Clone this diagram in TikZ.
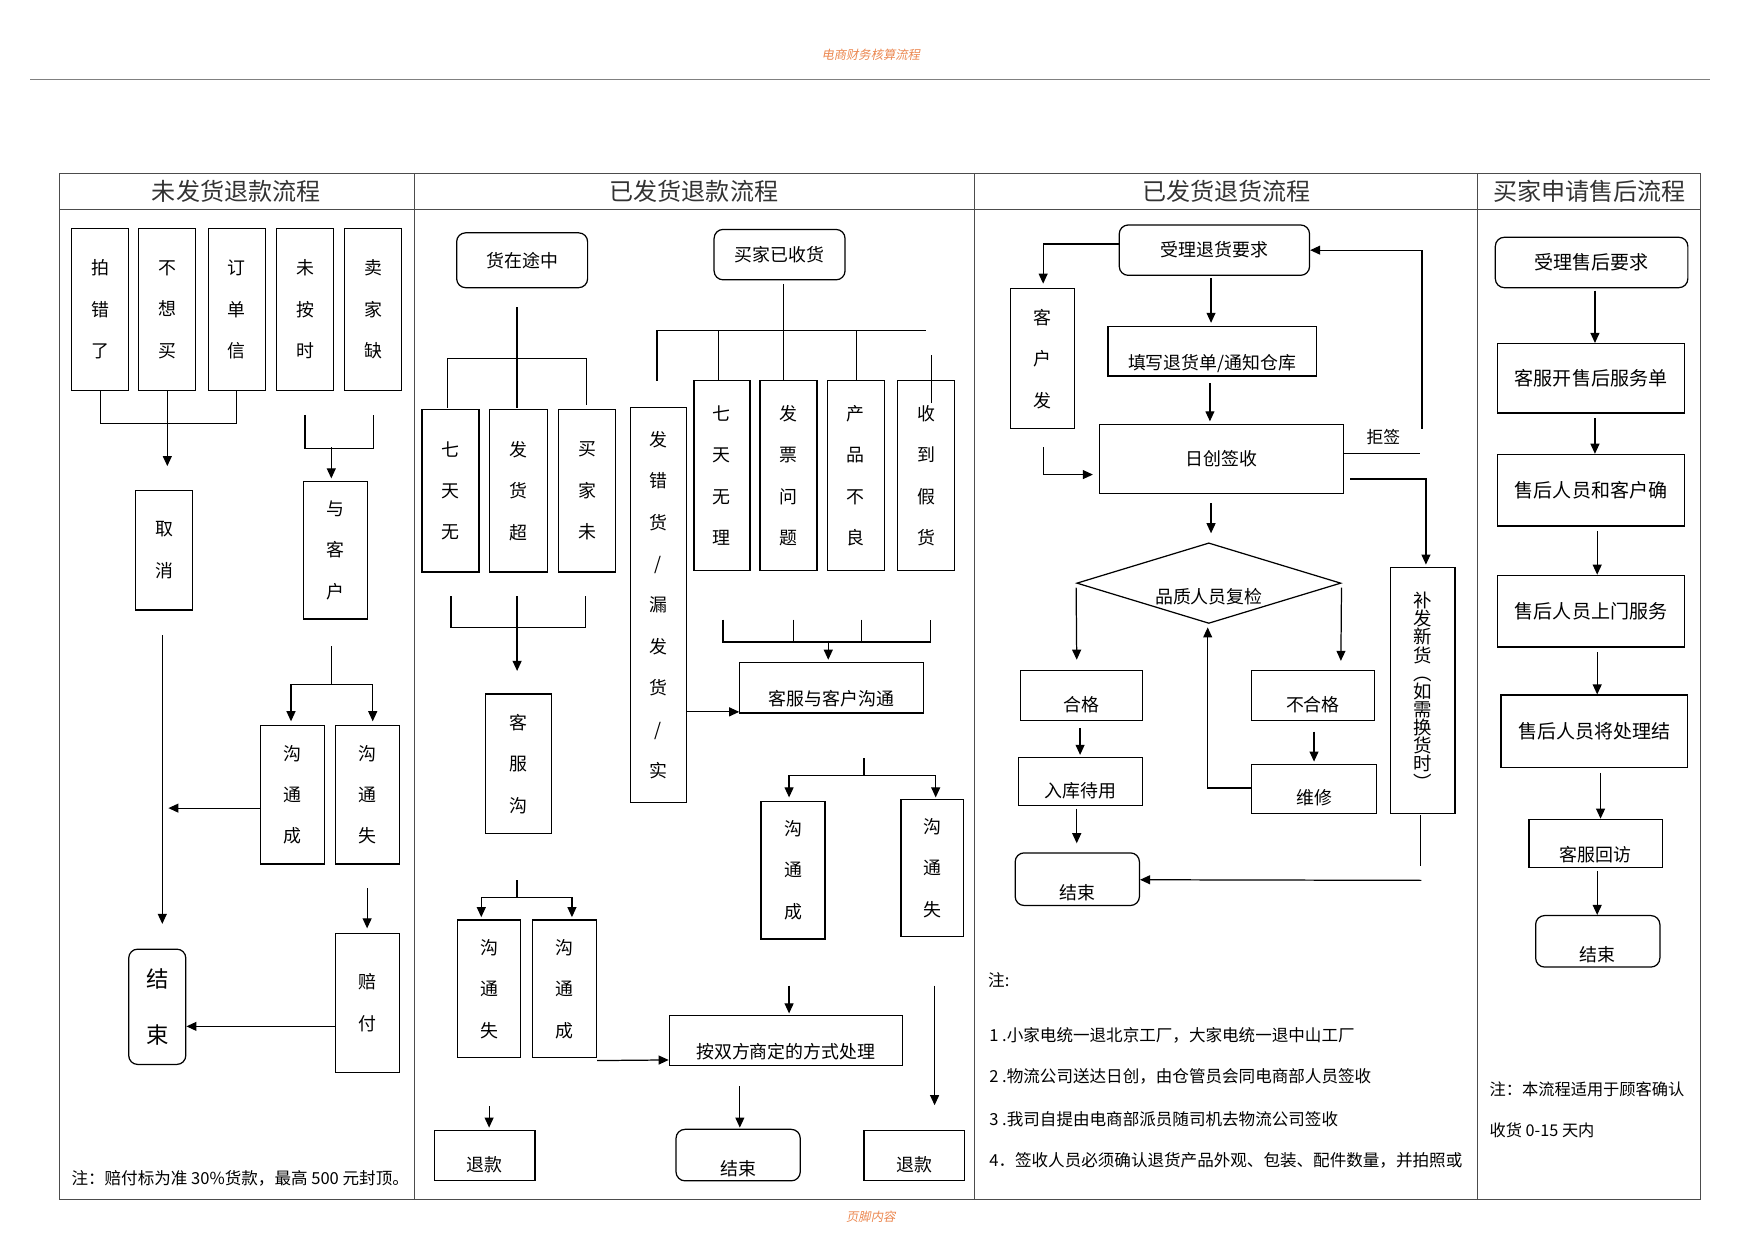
\documentclass[tikz,border=0pt]{standalone}
\usepackage{fontspec}
\setmainfont{Noto Sans CJK SC}
\newfontfamily\hdfont[FakeSlant=0.2]{Noto Sans CJK SC}
\usetikzlibrary{positioning, arrows.meta, shapes.geometric, calc}
\definecolor{hdorange}{RGB}{235,135,80}

\begin{document}
\begin{tikzpicture}[
    x=1pt, y=-1pt,
    line width=1.1pt,
    sz/.style 2 args={minimum width=#1pt, minimum height=#2pt},
    box/.style={draw, inner sep=0pt, align=center, font=\fontsize{16}{19}\selectfont},
    vbox/.style={box, font=\fontsize{16}{37}\selectfont},
    rbox/.style={box, rounded corners=8pt},
    box4/.style={box, font=\fontsize{17}{20}\selectfont},
    dia/.style={draw, diamond, aspect=3.28, inner sep=0pt, minimum width=236pt, minimum height=72pt, font=\fontsize{16}{19}\selectfont},
    low/.style={text height=#1, text depth=2pt},
    low/.default=30pt,
    arrow/.style={-{Triangle[length=9pt,width=8pt]}},
    title/.style={font=\fontsize{21.5}{24}\selectfont, text=black!80},
    note/.style={anchor=west, font=\fontsize{14.8}{17}\selectfont},
    lbl/.style={font=\fontsize{15}{17}\selectfont},
    hdtext/.style={font=\hdfont\fontsize{11}{13}\selectfont, text=hdorange},
    frame/.style={draw=black!70, line width=0.9pt}
  ]
  \useasboundingbox (0,0) rectangle (1568,1109);

  % 页眉 / 页脚
  \node[hdtext] (header) at (778,49) {电商财务核算流程};
  \draw[draw=black!50, line width=1pt] (27,71) -- (1528,71);
  \node[hdtext] (footer) at (778,1087) {页脚内容};

  % 表格
  \draw[frame] (53,155) rectangle (1519,1072);
  \draw[frame] (53,187) -- (1519,187);
  \draw[frame] (370,155) -- (370,1072);
  \draw[frame] (871,155) -- (871,1072);
  \draw[frame] (1320,155) -- (1320,1072);
  \node[title] (title1) at (211,171) {未发货退款流程};
  \node[title] (title2) at (620,171) {已发货退款流程};
  \node[title] (title3) at (1096,171) {已发货退货流程};
  \node[title] (title4) at (1420,171) {买家申请售后流程};

  % 未发货退款流程
  \node[vbox, sz={51}{145}] (paicuo) at (89.5,276.5) {拍\\错\\了};
  \node[vbox, sz={51}{145}] (buxiang) at (149.5,276.5) {不\\想\\买};
  \node[vbox, sz={51}{145}] (dingdan) at (211.5,276.5) {订\\单\\信};
  \node[vbox, sz={51}{145}] (weian) at (272.5,276.5) {未\\按\\时};
  \node[vbox, sz={51}{145}] (quehuo) at (333.5,276.5) {卖\\家\\缺};
  \node[vbox, sz={51}{107}] (quxiao) at (146.5,491.5) {取\\消};
  \node[vbox, sz={57}{123}] (yukehu) at (299.5,491.5) {与\\客\\户};
  \node[vbox, sz={57}{124}] (cheng1) at (261.5,710) {沟\\通\\成};
  \node[vbox, sz={57}{124}] (shi1) at (328.5,710) {沟\\通\\失};
  \node[vbox, rbox, sz={51}{103}, font=\fontsize{20}{50}\selectfont] (end1) at (140.5,899.5) {结\\束};
  \node[vbox, sz={57}{124}] (peifu) at (328.5,896) {赔\\付};

  \draw (paicuo.south) -- ++(0,29) -| (dingdan.south);
  \draw[arrow, shorten >=21pt] (buxiang.south) -- (buxiang.south |- quxiao.north);
  \draw ($(weian.south)+(0,21)$) -- ++(0,30) -| ($(quehuo.south)+(0,21)$);
  \draw[arrow] ($(yukehu.north)+(-3.5,-30)$) -- ($(yukehu.north)+(-3.5,-2)$);
  \draw ($(yukehu.south)+(-3.5,24)$) -- ++(0,34) coordinate (fork1);
  \draw[arrow] (fork1) -| ($(cheng1.north)+(-1.5,-3)$);
  \draw[arrow] (fork1) -| ($(shi1.north)+(4.5,-3)$);
  \draw[arrow] ($(quxiao.south)+(-1.5,22)$) -- ($(end1.north)+(4.5,-22)$);
  \draw[arrow] ($(cheng1.west)+(0,12)$) -- ++(-82,0);
  \draw[arrow] ($(shi1.south)+(-0.5,21)$) -- ($(peifu.north)+(-0.5,-4)$);
  \draw[arrow] ($(peifu.west)+(0,21)$) -- ($(end1.east)+(0,17.5)$);
  \node[note] (note1) at (60,1053) {注：赔付标为准 30\%货款，最高 500 元封顶。};

  % 已发货退款流程
  \node[rbox, sz={117}{49}] (zaitu) at (466.5,232.5) {货在途中};
  \node[vbox, sz={51}{145}] (qitian1) at (402.5,438.5) {七\\天\\无};
  \node[vbox, sz={52}{145}] (fahuochao) at (463,438.5) {发\\货\\超};
  \node[vbox, sz={51}{145}] (maijia) at (524.5,438.5) {买\\家\\未};
  \node[vbox, sz={59}{125}] (kefu) at (463.5,682.5) {客\\服\\沟};
  \node[vbox, sz={56}{123}] (shi2) at (437,883.5) {沟\\通\\失};
  \node[vbox, sz={57}{123}] (cheng2) at (504.5,883.5) {沟\\通\\成};
  \node[box, low, sz={90}{45}] (tuikuan1) at (433,1032.5) {退款};
  \node[vbox, sz={50}{353}] (facuo) at (588,540.5) {发\\错\\货\\/\\漏\\发\\货\\/\\实};
  \node[rbox, sz={117}{45}] (yishou) at (696.5,227.5) {买家已收货};
  \node[vbox, sz={50}{170}] (qitian2) at (645,425) {七\\天\\无\\理};
  \node[vbox, sz={51}{170}] (fapiao) at (704.5,425) {发\\票\\问\\题};
  \node[vbox, sz={51}{170}] (chanpin) at (764.5,425) {产\\品\\不\\良};
  \node[vbox, sz={51}{170}] (jiahuo) at (827.5,425) {收\\到\\假\\货};
  \node[box, low=34pt, sz={164}{45}] (goutong) at (743,614.5) {客服与客户沟通};
  \node[vbox, sz={57}{123}] (cheng3) at (708.5,777.5) {沟\\通\\成};
  \node[vbox, sz={56}{123}] (shi3) at (833,775.5) {沟\\通\\失};
  \node[box, low=34pt, sz={208}{45}] (anshuang) at (702,929.5) {按双方商定的方式处理};
  \node[rbox, low=38pt, sz={111}{46}] (end2) at (659.5,1032) {结束};
  \node[box, low, sz={90}{45}] (tuikuan2) at (817,1032.5) {退款};

  \draw ($(fahuochao.north)+(-1,-91)$) -- ($(fahuochao.north)+(-1,-1)$);
  \draw ($(qitian1.north)+(-2.5,-1)$) -- ++(0,-44) -| ($(maijia.north)+(-0.5,-4)$);
  \draw ($(qitian1.south)+(0.5,21)$) -- ++(0,28) -| ($(maijia.south)+(-1.5,21)$);
  \draw[arrow] ($(fahuochao.south)+(-1,21)$) -- ($(kefu.north)+(-1.5,-20)$);
  \draw ($(kefu.south)+(-1.5,41)$) -- ++(0,15) coordinate (fork2);
  \draw[arrow] (fork2) -| ($(shi2.north)+(-7,-2)$);
  \draw[arrow] (fork2) -| ($(cheng2.north)+(6.5,-2)$);
  \draw[arrow] ($(cheng2.south east)+(0,2)$) -- ($(anshuang.west)+(0,17.5)$);
  \draw[arrow] ($(shi2.south)+(0,43)$) -- ($(tuikuan1.north)+(4,-2)$);

  \coordinate (barL) at (587,295);
  \coordinate (barR) at (827,295);
  \draw ($(yishou.south)+(3.5,3)$) -- ($(fapiao.north)+(-4.5,0)$);
  \draw (barL) -- (barR);
  \draw (barL) -- ++(0,45);
  \draw ($(qitian2.north)+(-3,0)$) -- ++(0,-45);
  \draw ($(chanpin.north)+(0.5,0)$) -- ++(0,-45);
  \draw ($(jiahuo.north)+(4.5,-22)$) -- ++(0,43);
  \draw ($(qitian2.south)+(1,43)$) -- ++(0,20) -| ($(jiahuo.south)+(3.5,43)$);
  \draw ($(fapiao.south)+(4.5,43)$) -- ++(0,20);
  \draw ($(chanpin.south)+(5.5,43)$) -- ++(0,20);
  \draw[arrow] ($(goutong.north)+(-3,-19)$) -- ($(goutong.north)+(-3,-2)$);
  \draw[arrow] ($(facuo.east)+(0,95.5)$) -- ($(goutong.west)+(0,21.5)$);
  \draw ($(goutong.south)+(29,40)$) -- ++(0,15) coordinate (fork3);
  \draw[arrow] (fork3) -| ($(cheng3.north)+(-3.5,-3)$);
  \draw[arrow] (fork3) -| ($(shi3.north)+(3,-1)$);
  \draw[arrow] ($(cheng3.south)+(-3.5,41)$) -- ($(anshuang.north)+(3,-1)$);
  \draw[arrow] ($(anshuang.south)+(-41,18)$) -- ($(end2.north)+(1.5,-1)$);
  \draw[arrow] ($(shi3.south)+(2,43)$) -- ($(tuikuan2.north)+(18,-22)$);

  % 已发货退货流程
  \node[rbox, sz={170}{45}] (shouli) at (1085,223.5) {受理退货要求};
  \node[vbox, sz={57}{125}] (kehufa) at (931.5,320.5) {客\\户\\发};
  \node[box, low=34pt, sz={186}{44}] (tianxie) at (1083,314) {填写退货单/通知仓库};
  \node[box, sz={218}{62}] (richuang) at (1091,410) {日创签收};
  \node[dia, low=38pt] (fujian) at (1080,521) {品质人员复检};
  \node[box, low, sz={109}{45}] (hege) at (966.5,621.5) {合格};
  \node[box, low, sz={111}{43}] (ruku) at (965.5,698.5) {入库待用};
  \node[rbox, low=38pt, sz={111}{47}] (end3) at (962.5,785.5) {结束};
  \node[box, low, sz={110}{45}] (buhege) at (1173,621.5) {不合格};
  \node[box, low, sz={112}{44}] (weixiu) at (1174,705) {维修};
  \node[box, sz={58}{220}, font=\fontsize{16.5}{16.2}\selectfont] (bufa) at (1271,617) {补\\发\\新\\货\\︵\\如\\需\\换\\货\\时\\︶};
  \node[lbl] (jujian) at (1236,390) {拒签};

  \draw[arrow] ($(shouli.west)+(0,-5.5)$) -| ($(kehufa.north)+(0.5,-4)$);
  \draw[arrow] ($(shouli.south)+(-3,2)$) -- ($(tianxie.north)+(-1,-3)$);
  \draw[arrow] ($(tianxie.south)+(-2,6)$) -- ($(richuang.north)+(-10,-2)$);
  \draw[arrow] ($(kehufa.south)+(0.5,16)$) |- ($(richuang.west)+(-5,14)$);
  \draw ($(richuang.east)+(0,-5)$) -- ++(68,0);
  \draw[arrow] ($(richuang.east)+(70,-27)$) |- (shouli.east);
  \draw[arrow] ($(richuang.east)+(6,18)$) -| ($(bufa.north)+(3,-2)$);
  \draw[arrow] ($(richuang.south)+(-9,8)$) -- ($(fujian.north)+(2,-8)$);
  \draw[arrow] ($(fujian.west)+(0,4)$) -- ($(hege.north)+(-4.5,-9)$);
  \draw[arrow] ($(fujian.east)+(0,4)$) -- ($(buhege.north)+(25,-8)$);
  \draw[arrow] ($(hege.south)+(-1.5,6)$) -- ($(ruku.north)+(-0.5,-2)$);
  \draw[arrow] ($(ruku.south)+(-3.5,2)$) -- ($(end3.north)+(-0.5,-8)$);
  \draw[arrow] ($(buhege.south)+(1,9)$) -- ($(weixiu.north)+(0,-2)$);
  \draw[arrow] ($(weixiu.west)+(0,-1)$) -| ($(fujian.south)+(-1,3)$);
  \draw ($(bufa.south)+(-2,1)$) -- ++(0,45);
  \draw[arrow] ($(bufa.south)+(-1,59)$) -- ($(end3.east)+(0,0.5)$);

  \node[note] (note3) at (879,876) {注:};
  \node[note] (note31) at (880,925) {1 .小家电统一退北京工厂，大家电统一退中山工厂};
  \node[note] (note32) at (880,962) {2 .物流公司送达日创，由仓管员会同电商部人员签收};
  \node[note] (note33) at (880,1000) {3 .我司自提由电商部派员随司机去物流公司签收};
  \node[note] (note34) at (880,1037) {4．签收人员必须确认退货产品外观、包装、配件数量，并拍照或};

  % 买家申请售后流程
  \node[rbox, box4, sz={172}{45}] (shouhou) at (1422,234.5) {受理售后要求};
  \node[box4, sz={167}{62}] (kaidan) at (1421.5,338) {客服开售后服务单};
  \node[box4, sz={167}{64}] (queren) at (1421.5,438) {售后人员和客户确};
  \node[box4, sz={167}{64}] (shangmen) at (1421.5,546) {售后人员上门服务};
  \node[box4, sz={167}{65}] (jieguo) at (1424.5,653.5) {售后人员将处理结};
  \node[box, low=34pt, sz={119}{43}] (huifang) at (1425.5,753.5) {客服回访};
  \node[rbox, low=38pt, sz={111}{46}] (end4) at (1427.5,841) {结束};

  \draw[arrow] ($(shouhou.south)+(3,2)$) -- ($(kaidan.north)+(3.5,0)$);
  \draw[arrow] ($(kaidan.south)+(3.5,4)$) -- ($(queren.north)+(3.5,0)$);
  \draw[arrow] ($(queren.south)+(5.5,4)$) -- ($(shangmen.north)+(5.5,0)$);
  \draw[arrow] ($(shangmen.south)+(5.5,4)$) -- ($(jieguo.north)+(2.5,0)$);
  \draw[arrow] ($(jieguo.south)+(5.5,4)$) -- ($(huifang.north)+(4.5,0)$);
  \draw[arrow] ($(huifang.south)+(1.5,3)$) -- ($(end4.north)+(-0.5,0)$);

  \node[note, font=\fontsize{14.5}{17}\selectfont] (note4a) at (1327,973) {注：本流程适用于顾客确认};
  \node[note, font=\fontsize{14.5}{17}\selectfont] (note4b) at (1327,1010) {收货 0-15 天内};
\end{tikzpicture}
\end{document}
